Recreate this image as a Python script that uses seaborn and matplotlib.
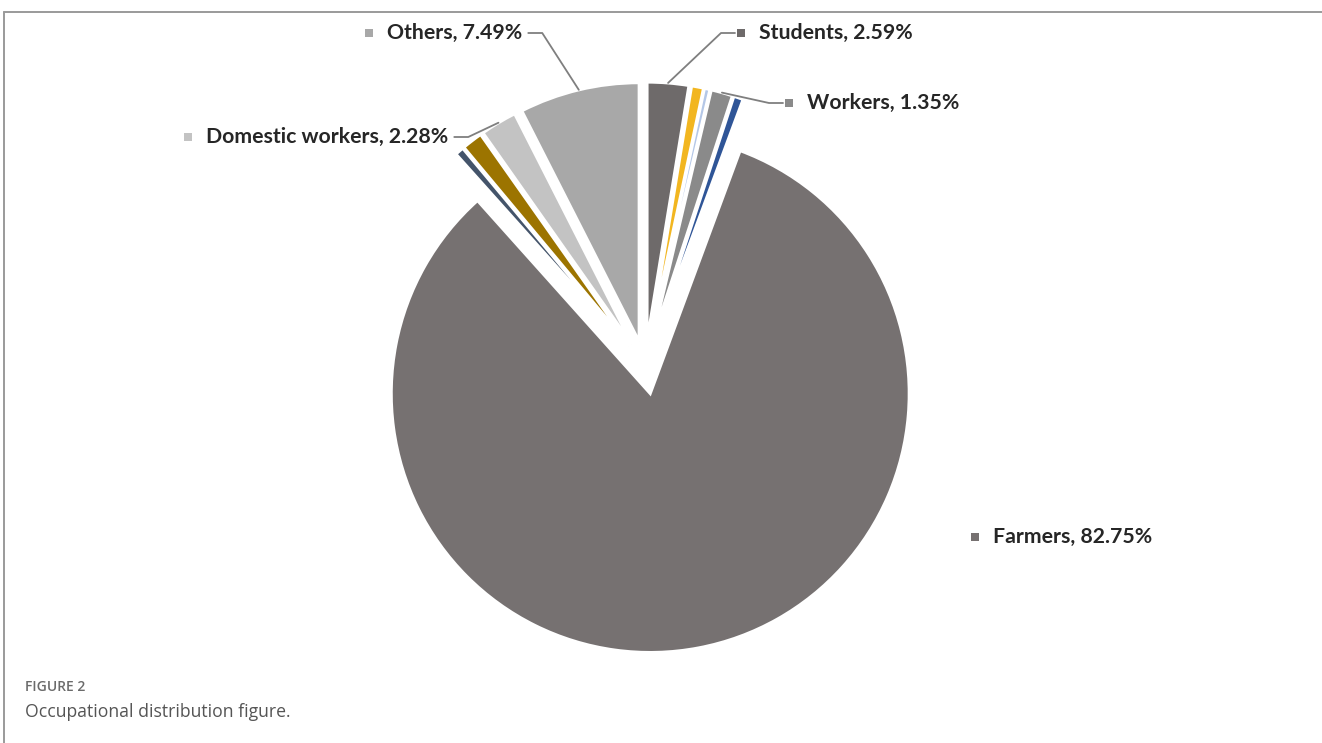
import numpy as np
import matplotlib
matplotlib.use("Agg")
import matplotlib.pyplot as plt
import seaborn as sns

# ---------------- data (clockwise from 12 o'clock) ----------------
categories = ["Students", "Occupation A", "Occupation B", "Workers", "Occupation C",
              "Farmers", "Occupation D", "Occupation E", "Domestic workers", "Others"]
values = [2.59, 0.75, 0.35, 1.35, 0.60, 82.75, 0.55, 1.30, 2.28, 7.49]
labelled = ["Students", "Workers", "Farmers", "Domestic workers", "Others"]
colors = ["#6e6a6a", "#f2b620", "#b4c7e7", "#8a8a8a", "#2f5597",
          "#767171", "#44546a", "#9c7400", "#c3c3c3", "#a8a8a8"]

caption_head = "FIGURE 2"
caption_text = "Occupational distribution figure."

# ---------------- style ----------------
sns.set_theme(style="white")
plt.rcParams["font.family"] = ["Lato", "DejaVu Sans"]

W, H = 1322, 743
fig = plt.figure(figsize=(W / 100, H / 100), dpi=100)
ax = fig.add_axes([0, 0, 1, 1])

def Y(y):  # image row -> data y
    return H - y

cx, cy, R = 645, Y(366), 259
# explode distance in data units (pixels)
explode = [28 if c == "Farmers" else 25 for c in categories]

wedges, _ = ax.pie(values, colors=colors, startangle=90, counterclock=False,
                   explode=explode, radius=R, center=(cx, cy),
                   wedgeprops=dict(edgecolor="white", linewidth=2.2))

ax.set_xlim(0, W)
ax.set_ylim(0, H)
ax.set_aspect("equal")
ax.axis("off")

# label layout: (square x, text y, leader side)
label_layout = {
    "Others": (369, 33, "right"),
    "Students": (741, 33, "left"),
    "Workers": (789, 103, "left"),
    "Domestic workers": (188, 137, "right"),
    "Farmers": (975, 537, None),
}
fs = 15.3
txt_color = "#262626"
renderer = fig.canvas.get_renderer()
for name in labelled:
    i = categories.index(name)
    sx, ty, side = label_layout[name]
    ax.scatter([sx], [Y(ty)], marker="s", s=30, color=colors[i], zorder=5, linewidths=0)
    t = ax.text(sx + 18, Y(ty), f"{name}, {values[i]:.2f}%", fontsize=fs,
                fontweight="bold", color=txt_color, va="center", ha="left")
    if side is None:
        continue
    w = wedges[i]
    mid = np.deg2rad((w.theta1 + w.theta2) / 2)
    px = w.center[0] + w.r * np.cos(mid)
    py = w.center[1] + w.r * np.sin(mid)
    if side == "right":
        bb = t.get_window_extent(renderer=renderer)
        x0 = bb.x1 + 6
        pts = [(x0, Y(ty)), (x0 + 14, Y(ty)), (px, py)]
    else:
        x0 = sx - 6
        pts = [(x0, Y(ty)), (x0 - 14, Y(ty)), (px, py)]
    xs, ys = zip(*pts)
    ax.plot(xs, ys, color="#7f7f7f", lw=1.3, zorder=4)

# frame lines of the figure panel
ax.plot([4, W], [Y(12), Y(12)], color="#9a9a9a", lw=1.4)
ax.plot([4, 4], [Y(12), 0], color="#9a9a9a", lw=1.4)

# caption
ax.text(25, Y(687), caption_head, fontsize=10, color="#6b6b6b", va="center",
        ha="left", family=["Open Sans", "DejaVu Sans"], fontweight="semibold")
ax.text(25, Y(712), caption_text, fontsize=12.7, color="#555555", va="center",
        ha="left", family=["Open Sans", "DejaVu Sans"])

fig.savefig("out.png", dpi=100)
